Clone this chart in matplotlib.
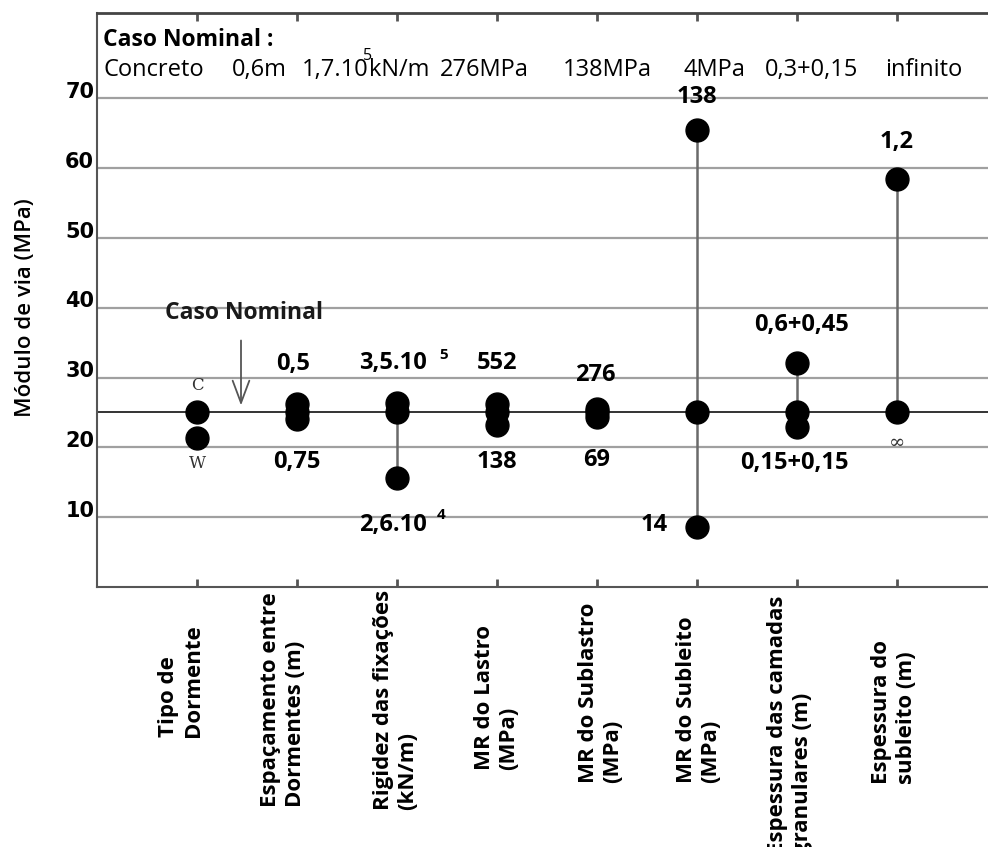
import numpy as np
import matplotlib.pyplot as plt
from matplotlib.transforms import ScaledTranslation

plt.rcParams['font.family'] = ['Open Sans', 'DejaVu Sans']

# parâmetros variados e módulo de via resultante (MPa)
categorias = ["Tipo de\nDormente", "Espaçamento entre\nDormentes (m)",
              "Rigidez das fixações\n(kN/m)", "MR do Lastro\n(MPa)",
              "MR do Sublastro\n(MPa)", "MR do Subleito\n(MPa)",
              "Espessura das camadas\ngranulares (m)", "Espessura do\nsubleito (m)"]
modulo_nominal = 25.0
modulo_alto = [25.0, 26.2, 26.4, 26.2, 25.5, 65.5, 32.1, 58.4]
modulo_baixo = [21.3, 24.1, 15.6, 23.2, 24.4, 8.6, 22.9, np.nan]
rotulo_alto = ["C", "0,5", "3,5.10", "552", "276", "138", "0,6+0,45", "1,2"]
rotulo_baixo = ["W", "0,75", "2,6.10", "138", "69", "14", "0,15+0,15", "\u221e"]
com_haste = [False, False, True, False, False, True, True, True]
caso_nominal = ["Concreto", "0,6m", "1,7.10", "kN/m", "276MPa", "138MPa",
                "4MPa", "0,3+0,15", "infinito"]
y_ticks = [10, 20, 30, 40, 50, 60, 70]

fig = plt.figure(figsize=(9.88, 8.47), dpi=100)
ax = fig.add_axes([97 / 988, 1 - 587 / 847, 1 - 97 / 988, 574 / 847])
ax.set_xlim(-1.0, 7.91)
ax.set_ylim(0, 82.2)

x = np.arange(len(categorias))

# grade horizontal
for v in y_ticks:
    ax.axhline(v, color="#a0a0a0", lw=1.6, zorder=1)
ax.axhline(modulo_nominal, color="#333333", lw=1.4, zorder=2)

# hastes verticais entre os extremos
for i in x:
    if com_haste[i]:
        lo = modulo_baixo[i] if not np.isnan(modulo_baixo[i]) else modulo_nominal
        ax.vlines(i, min(lo, modulo_nominal), max(modulo_alto[i], modulo_nominal),
                  color="#6a6a6a", lw=1.8, zorder=2)

# pontos
ax.plot(x, modulo_alto, "o", color="black", ms=16.5, zorder=4)
ax.plot(x, modulo_baixo, "o", color="black", ms=16.5, zorder=4)
ax.plot(x[1:], [modulo_nominal] * (len(x) - 1), "o", color="black", ms=16.5, zorder=4)

# rótulos dos valores extremos
desl_alto = [(0, 27), (-4, 40), (-4, 40), (0, 41), (-2, 34), (0, 33), (4, 38), (0, 37)]
desl_baixo = [(0, -25), (0, -43), (-4, -47), (0, -37), (0, -43), (-43, 2), (-3, -36), (0, -31)]
for i in x:
    serif = i == 0
    kw = dict(family="DejaVu Serif", fontsize=12, color="#333333") if serif else \
        dict(fontsize=17, fontweight="bold", color="black")
    ax.annotate(rotulo_alto[i], (i, modulo_alto[i]), xytext=desl_alto[i],
                textcoords="offset pixels", ha="center", va="center", **kw)
    yb = modulo_baixo[i] if not np.isnan(modulo_baixo[i]) else modulo_nominal
    if i == 7:
        kw = dict(family="DejaVu Serif", fontsize=14, color="#333333")
    ax.annotate(rotulo_baixo[i], (i, yb), xytext=desl_baixo[i],
                textcoords="offset pixels", ha="center", va="center", **kw)

# expoentes
ax.annotate("5", (2, modulo_alto[2]), xytext=(47, 48), textcoords="offset pixels",
            ha="center", va="center", fontsize=11, fontweight="bold")
ax.annotate("4", (2, modulo_baixo[2]), xytext=(44, -37), textcoords="offset pixels",
            ha="center", va="center", fontsize=11, fontweight="bold")

# seta do caso nominal
ax.annotate("", xy=(0.44, 25.6), xytext=(0.44, 35.7),
            arrowprops=dict(arrowstyle="->,head_length=0.8,head_width=0.3",
                            color="#555555", lw=1.3, mutation_scale=20))
ax.text(0.47, 39.3, "Caso Nominal", ha="center", va="center",
        fontsize=16.5, fontweight="bold", color="#1a1a1a")

# quadro superior com o caso nominal
ax.text(-0.94, 78.3, "Caso Nominal :", ha="left", va="center",
        fontsize=16.5, fontweight="bold")
pos_nominal = [-0.94, 0.35, 1.05, 1.72, 2.43, 3.66, 4.86, 5.68, 6.88]
for xp, txt in zip(pos_nominal, caso_nominal):
    ax.text(xp, 74.0, txt, ha="left", va="center", fontsize=17)
ax.text(1.71, 76.0, "5", ha="center", va="center", fontsize=11.5)

# nomes dos parâmetros, na vertical
tr = ax.get_xaxis_transform()
dx_cat = [-0.16, -0.14, -0.01, 0.0, 0.04, 0.02, -0.07, -0.03]
py_cat = [681, 700, 700, 697, 693, 700, 725, 712]
for i, nome in enumerate(categorias):
    ax.text(i + dx_cat[i], (587 - py_cat[i]) / 574, nome, transform=tr,
            rotation=90, ha="center", va="center", multialignment="left",
            fontsize=16, fontweight="bold", linespacing=1.2, clip_on=False)

# eixos
ax.set_xticks(x)
ax.set_xticklabels([])
ax.tick_params(axis="x", direction="in", length=6, width=2, color="#555555",
               top=True, bottom=True)
ax.set_yticks(y_ticks)
ax.set_yticklabels([str(v) for v in y_ticks], family="DejaVu Sans",
                   fontweight="bold", fontsize=15)
ax.tick_params(axis="y", length=0, pad=2)
for lab in ax.get_yticklabels():
    lab.set_transform(lab.get_transform() + ScaledTranslation(0, 6 / 72, fig.dpi_scale_trans))

ax.spines["right"].set_visible(False)
ax.spines["top"].set_color("#444444")
ax.spines["top"].set_linewidth(2)
ax.spines["left"].set_color("#555555")
ax.spines["left"].set_linewidth(1.5)
ax.spines["bottom"].set_color("#555555")
ax.spines["bottom"].set_linewidth(1.5)

fig.text(25 / 988, 1 - 308 / 847, "Módulo de via (MPa)", rotation=90,
         ha="center", va="center", fontsize=16, fontweight="semibold")

fig.savefig("out.png", dpi=100)
